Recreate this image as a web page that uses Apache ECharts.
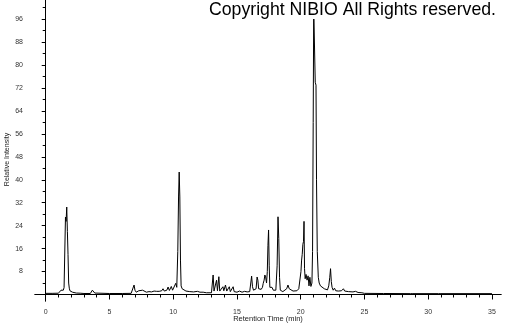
<!DOCTYPE html>
<html>
<head>
<meta charset="utf-8">
<script src="https://cdn.jsdelivr.net/npm/echarts@6/dist/echarts.min.js"></script>
<style>html,body{margin:0;padding:0;background:#fff;}#c{width:505px;height:325px;}</style>
</head>
<body>
<div id="c"></div>
<script>
const retentionTime = [
  0, 0.5, 1.0, 1.15, 1.2, 1.3, 1.38, 1.44, 1.5, 1.55, 1.6, 1.65, 1.7, 1.75, 1.8, 1.85, 1.9, 1.95, 2.0, 2.1,
  2.2, 2.4, 2.7, 3.0, 3.5, 3.58, 3.66, 3.74, 3.85, 4.0, 5.0, 6.0, 6.7, 6.85, 6.93, 7.0, 7.1, 7.3, 7.4, 7.6,
  7.7, 7.9, 8.1, 8.3, 8.5, 8.7, 8.8, 8.9, 9.1, 9.2, 9.3, 9.5, 9.6, 9.7, 9.85, 9.95, 10.1, 10.2, 10.28, 10.36,
  10.42, 10.47, 10.52, 10.57, 10.62, 10.7, 10.8, 11.0, 11.3, 11.6, 11.9, 12.1, 12.25, 12.35, 12.6, 13.0, 13.05, 13.13, 13.2, 13.3,
  13.4, 13.47, 13.58, 13.65, 13.75, 13.9, 13.97, 14.1, 14.2, 14.3, 14.4, 14.48, 14.6, 14.7, 14.78, 15.0, 15.2, 15.4, 15.6, 15.8,
  16.0, 16.08, 16.15, 16.22, 16.3, 16.4, 16.5, 16.58, 16.64, 16.7, 16.8, 16.9, 17.0, 17.06, 17.13, 17.19, 17.26, 17.32, 17.38, 17.43,
  17.48, 17.53, 17.58, 17.65, 17.75, 17.85, 17.95, 18.05, 18.15, 18.22, 18.28, 18.34, 18.4, 18.5, 18.6, 18.75, 18.9, 19.0, 19.1, 19.25,
  19.4, 19.55, 19.7, 19.85, 19.95, 20.02, 20.07, 20.12, 20.17, 20.22, 20.26, 20.3, 20.35, 20.42, 20.5, 20.58, 20.65, 20.72, 20.8, 20.88,
  20.93, 20.98, 21.02, 21.1, 21.14, 21.2, 21.24, 21.3, 21.38, 21.45, 21.55, 21.7, 21.85, 22.0, 22.1, 22.2, 22.28, 22.34, 22.4, 22.46,
  22.55, 22.65, 22.75, 22.85, 22.95, 23.1, 23.2, 23.35, 23.45, 23.6, 23.75, 23.9, 24.1, 24.3, 24.5, 24.8, 25.0, 26.3, 26.4, 26.5,
  28.6, 28.7, 28.8, 30.8, 30.9, 31.0, 35.0
];
const relativeIntensity = [
  0.4, 0.4, 0.45, 0.5, 1.5, 1.9, 1.5, 2.4, 1.8, 27, 25.5, 30.5, 22, 14, 4, 2.2, 1.3, 1.9, 1.2, 0.8,
  0.6, 0.5, 0.45, 0.35, 0.35, 1.0, 1.5, 0.9, 0.5, 0.35, 0.35, 0.35, 0.4, 1.0, 3.3, 1.5, 0.8, 1.3, 0.8, 1.5,
  0.9, 0.8, 1.0, 0.9, 1.2, 1.1, 1.7, 1.1, 1.3, 2.0, 1.2, 1.5, 2.6, 1.4, 2.8, 1.5, 2.0, 3.9, 2.5, 15,
  34, 42.7, 34, 12, 3, 2, 1.5, 1.2, 1.0, 0.9, 1.1, 0.8, 1.4, 0.8, 0.6, 0.6, 1.0, 6.8, 1.2, 1.5,
  5.0, 1.3, 6.2, 1.2, 1.0, 2.7, 1.3, 3.3, 1.2, 1.0, 2.7, 1.0, 1.2, 2.7, 1.0, 0.8, 1.2, 0.8, 1.1, 0.9,
  1.0, 1.5, 6.4, 2.7, 1.5, 1.2, 2.0, 6.1, 5.0, 2.0, 1.5, 1.8, 2.5, 3.9, 5.0, 6.8, 5.8, 4.0, 8, 17,
  22.5, 10, 2.5, 2.0, 2.5, 1.5, 1.2, 1.5, 10, 27.1, 19.5, 6, 1.5, 1.2, 1.0, 1.5, 2.0, 3.3, 2.0, 1.6,
  1.2, 1.5, 1.3, 2.0, 2.5, 8, 12, 14, 17.5, 18.5, 25.5, 9, 5.5, 7, 5, 6.5, 3, 6, 2.8, 4,
  15, 60, 100, 100, 74, 73, 40, 15, 6, 4, 3, 2.5, 2, 1.8, 1.6, 3, 6, 9, 4.5, 2.5,
  1.5, 2.2, 1.3, 1.8, 1.2, 1.5, 1.3, 2, 1.2, 1.5, 1.0, 1.3, 0.9, 1.1, 0.7, 0.6, 0.4, 0.35, 0.6, 0.35,
  0.3, 0.6, 0.3, 0.3, 0.6, 0.3, 0.3
];
const xLabelValues = [0, 5, 10, 15, 20, 25, 30, 35];
const xMinorTickValues = [0,1,2,3,4,5,6,7,8,9,10,11,12,13,14,15,16,17,18,19,20,21,22,23,24,25,26,27,28,29,30,31,32,33,34,35];
const yLabelValues = [8, 16, 24, 32, 40, 48, 56, 64, 72, 80, 88, 96];
const yMinorTickValues = [0,4,8,12,16,20,24,28,32,36,40,44,48,52,56,60,64,68,72,76,80,84,88,92,96,100];

const chart = echarts.init(document.getElementById('c'), null, {renderer: 'canvas'});
const labelFont = {fontFamily: 'Liberation Sans', fontSize: 7, color: '#333'};
const xRange = {min: -0.84, max: 35.71};
const yRange = {min: -2.27, max: 102.7};
chart.setOption({
  animation: false,
  backgroundColor: '#fff',
  title: {
    text: 'Copyright NIBIO All Rights reserved.',
    right: 9, top: 1, padding: 0,
    backgroundColor: '#fff',
    textStyle: {fontFamily: 'Liberation Sans', fontSize: 17.7, fontWeight: 'normal', color: '#000', lineHeight: 18}
  },
  grid: {left: 35, right: 4, top: 0, bottom: 24, containLabel: false, outerBoundsMode: 'none'},
  xAxis: [{
    type: 'value', ...xRange,
    name: 'Retention Time (min)', nameLocation: 'middle', nameGap: 14, nameMoveOverlap: false,
    nameTextStyle: {fontFamily: 'Liberation Sans', fontSize: 7.5, color: '#222'},
    axisLine: {show: true, lineStyle: {color: '#000', width: 1}},
    axisTick: {show: true, length: 5, lineStyle: {color: '#000'}, customValues: xLabelValues},
    axisLabel: {...labelFont, margin: 8, customValues: xLabelValues},
    splitLine: {show: false}
  }, {
    type: 'value', ...xRange, position: 'bottom',
    axisLine: {show: true, lineStyle: {color: '#000', width: 1}},
    axisTick: {show: true, length: 3, lineStyle: {color: '#000'}, customValues: xMinorTickValues},
    axisLabel: {show: false},
    splitLine: {show: false}
  }],
  yAxis: [{
    type: 'value', ...yRange,
    name: 'Relative Intensity', nameLocation: 'middle', nameGap: 24, nameMoveOverlap: false,
    nameTextStyle: {fontFamily: 'Liberation Sans', fontSize: 7, color: '#222', padding: [0, 18, 0, 0]},
    axisLine: {show: true, lineStyle: {color: '#000', width: 1}},
    axisTick: {show: true, length: 4, lineStyle: {color: '#000'}, customValues: yLabelValues},
    axisLabel: {...labelFont, margin: 12, customValues: yLabelValues},
    splitLine: {show: false}
  }, {
    type: 'value', ...yRange, position: 'left',
    axisLine: {show: true, lineStyle: {color: '#000', width: 1}},
    axisTick: {show: true, length: 3, lineStyle: {color: '#000'}, customValues: yMinorTickValues},
    axisLabel: {show: false},
    splitLine: {show: false}
  }],
  series: [{
    type: 'line',
    xAxisIndex: 0, yAxisIndex: 0,
    data: retentionTime.map((t, i) => [t, relativeIntensity[i]]),
    showSymbol: false,
    symbol: 'none',
    lineStyle: {color: '#000', width: 1},
    z: 2
  }]
});
</script>
</body>
</html>
